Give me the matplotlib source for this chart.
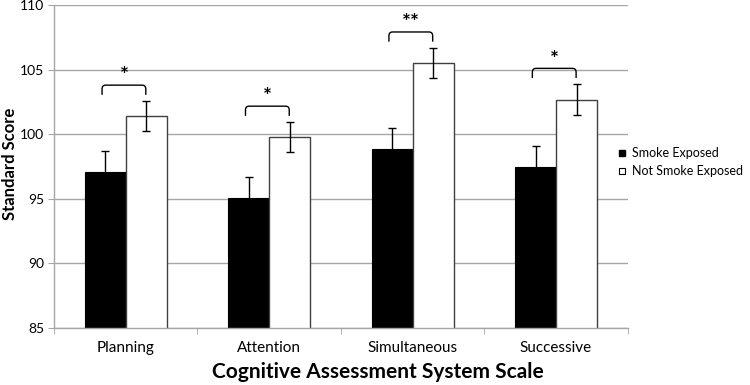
import numpy as np
import matplotlib
matplotlib.use('Agg')
import matplotlib.pyplot as plt
from matplotlib.lines import Line2D
from matplotlib.path import Path
from matplotlib.patches import PathPatch

plt.rcParams['font.family'] = ['Lato', 'DejaVu Sans']

scales = ['Planning', 'Attention', 'Simultaneous', 'Successive']
smoke = [97.1, 95.1, 98.85, 97.45]
smoke_err = [1.65, 1.6, 1.63, 1.65]
not_smoke = [101.45, 99.8, 105.55, 102.7]
not_smoke_err = [1.15, 1.17, 1.17, 1.2]
stars = ['*', '*', '**', '*']

fig = plt.figure(figsize=(7.5, 3.85), dpi=100)
ax = fig.add_axes([0.072, 0.148, 0.765, 0.838])

x = np.arange(len(scales))
w = 2 / 7
grid_c = '#a6a6a6'

ax.bar(x - w / 2, smoke, w, color='black', edgecolor='black', linewidth=0.8, zorder=2,
       yerr=smoke_err, error_kw=dict(ecolor='black', elinewidth=1, capsize=3, capthick=1))
ax.bar(x + w / 2, not_smoke, w, color='white', edgecolor='#404040', linewidth=1, zorder=2,
       yerr=not_smoke_err, error_kw=dict(ecolor='black', elinewidth=1, capsize=3, capthick=1))

# significance brackets
for i in range(len(scales)):
    top = not_smoke[i] + not_smoke_err[i] + 1.22
    bot = top - 0.75
    x0, x1 = x[i] - 0.165, x[i] + 0.14
    r = 0.025
    verts = [(x0, bot), (x0, top - 0.3), (x0, top), (x0 + r, top),
             (x1 - r, top), (x1, top), (x1, top - 0.3), (x1, bot)]
    codes = [Path.MOVETO, Path.LINETO, Path.CURVE3, Path.CURVE3,
             Path.LINETO, Path.CURVE3, Path.CURVE3, Path.LINETO]
    ax.add_patch(PathPatch(Path(verts, codes), facecolor='none', edgecolor='black', lw=1, zorder=3))
    ax.text((x0 + x1) / 2, top - 0.1, stars[i], ha='center', va='bottom', fontsize=15,
            fontweight='bold', zorder=3)

ax.set_ylim(85, 110)
ax.set_xlim(-0.5, 3.5)
ax.set_yticks(np.arange(85, 111, 5))
ax.yaxis.grid(True, color=grid_c, linewidth=1)
ax.set_axisbelow(True)

ax.set_xticks(x)
ax.set_xticklabels(scales, fontsize=11)
ax.set_xticks(np.arange(-0.5, 4, 1), minor=True)
ax.tick_params(axis='x', which='major', length=0, pad=9)
ax.tick_params(axis='x', which='minor', length=4, color=grid_c, direction='out')
ax.tick_params(axis='y', length=4, color=grid_c, labelsize=10, pad=3)

for s in ['top', 'right']:
    ax.spines[s].set_visible(False)
for s in ['left', 'bottom']:
    ax.spines[s].set_color(grid_c)
    ax.spines[s].set_linewidth(1)

ax.set_xlabel('Cognitive Assessment System Scale', fontsize=15, fontweight='bold')
ax.xaxis.set_label_coords(0.564, -0.105)
ax.set_ylabel('Standard Score', fontsize=12, fontweight='bold')
ax.yaxis.set_label_coords(-0.062, 0.51)

handles = [Line2D([], [], marker='s', linestyle='none', markersize=5, markerfacecolor='black',
                  markeredgecolor='black'),
           Line2D([], [], marker='s', linestyle='none', markersize=5, markerfacecolor='white',
                  markeredgecolor='black', markeredgewidth=0.8)]
fig.legend(handles, ['Smoke Exposed', 'Not Smoke Exposed'], loc='center left',
           bbox_to_anchor=(0.818, 0.579), frameon=False, fontsize=9,
           handlelength=0.6, handletextpad=0.5, labelspacing=0.45, borderaxespad=0)

fig.savefig('out.png', dpi=100)
